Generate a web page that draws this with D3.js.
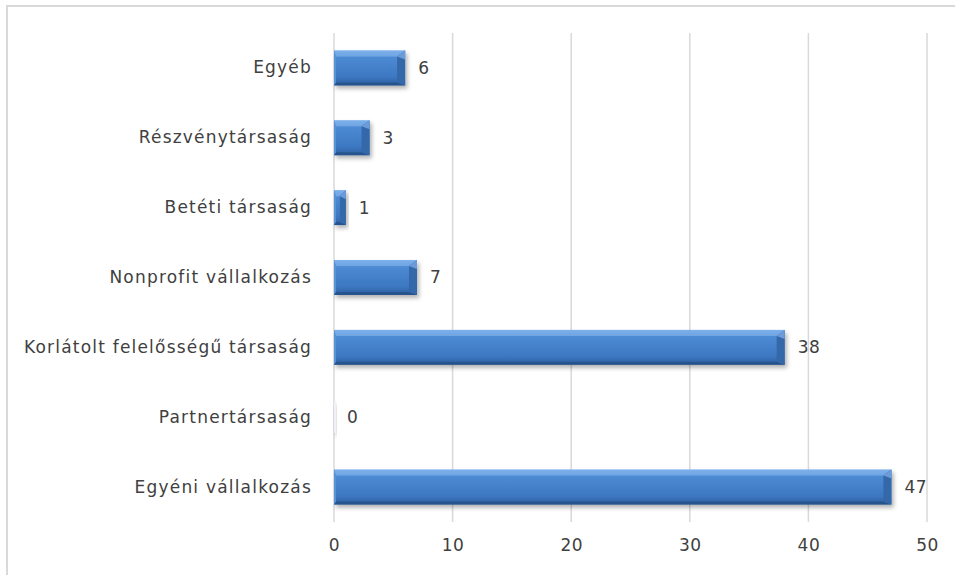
<!DOCTYPE html>
<html>
<head>
<meta charset="utf-8">
<script src="https://cdn.jsdelivr.net/npm/d3@7/dist/d3.min.js"></script>
<style>
  html, body { margin: 0; padding: 0; background: #fff; }
  svg { display: block; }
  text { font-family: "DejaVu Sans", sans-serif; fill: #404040; }
</style>
</head>
<body>
<svg id="chart" width="955" height="575"></svg>
<script>
// Company forms, listed top to bottom
const categories = [
  "Egyéb",
  "Részvénytársaság",
  "Betéti társaság",
  "Nonprofit vállalkozás",
  "Korlátolt felelősségű társaság",
  "Partnertársaság",
  "Egyéni vállalkozás"
];
const values = [6, 3, 1, 7, 38, 0, 47];
const xTicks = [0, 10, 20, 30, 40, 50];

const svg = d3.select("#chart");
const W = 955, H = 575;
const plot = { left: 334, right: 927, top: 33, bottom: 522 };
const FONT = '"DejaVu Sans", sans-serif';

// Outer frame (top and left edges)
svg.append("path")
  .attr("d", `M7,${H} L7,6 L${W},6`)
  .attr("fill", "none")
  .attr("stroke", "#d9d9d9")
  .attr("stroke-width", 2);

const x = d3.scaleLinear().domain([0, 50]).range([plot.left, plot.right]);
const y = d3.scaleBand().domain(categories).range([plot.top, plot.bottom]).paddingInner(0.5).paddingOuter(0.25);

const defs = svg.append("defs");
const grad = defs.append("linearGradient").attr("id", "barGrad")
  .attr("x1", 0).attr("y1", 0).attr("x2", 0).attr("y2", 1);
grad.append("stop").attr("offset", "0%").attr("stop-color", "#6aa3e6");
grad.append("stop").attr("offset", "20%").attr("stop-color", "#4d8ad4");
grad.append("stop").attr("offset", "75%").attr("stop-color", "#3d78c2");
grad.append("stop").attr("offset", "100%").attr("stop-color", "#2d5f9f");

const shadow = defs.append("filter").attr("id", "shadow")
  .attr("x", "-10%").attr("y", "-30%").attr("width", "130%").attr("height", "180%");
shadow.append("feDropShadow").attr("dx", 2).attr("dy", 3)
  .attr("stdDeviation", 2).attr("flood-color", "#000").attr("flood-opacity", 0.3);

// Vertical gridlines
svg.append("g").selectAll("line").data(xTicks.slice(1)).join("line")
  .attr("x1", d => x(d)).attr("x2", d => x(d))
  .attr("y1", plot.top).attr("y2", plot.bottom)
  .attr("stroke", "#d9d9d9").attr("stroke-width", 1.5);

// Category axis line
svg.append("line")
  .attr("x1", x(0)).attr("x2", x(0))
  .attr("y1", plot.top).attr("y2", plot.bottom)
  .attr("stroke", "#d9d9d9").attr("stroke-width", 1.5);

// X axis tick labels
const xAxis = d3.axisBottom(x).tickValues(xTicks).tickSize(0).tickPadding(0);
const gx = svg.append("g").attr("transform", `translate(0,${plot.bottom + 17})`).call(xAxis);
gx.select(".domain").remove();
gx.selectAll("text").attr("font-size", 17).attr("fill", "#404040")
  .attr("letter-spacing", 0.5)
  .style("font-family", FONT);

// Category labels
const yAxis = d3.axisLeft(y).tickSize(0).tickPadding(22);
const gy = svg.append("g").attr("transform", `translate(${x(0)},0)`).call(yAxis);
gy.select(".domain").remove();
gy.selectAll("text").attr("font-size", 17).attr("fill", "#404040")
  .attr("letter-spacing", 1.2)
  .style("font-family", FONT);

// Beveled bars
const rows = categories.map((c, i) => ({ c, v: values[i] }));
const bars = svg.append("g").selectAll("g").data(rows).join("g")
  .attr("filter", "url(#shadow)");

bars.each(function(d) {
  const g = d3.select(this);
  const x0 = x(0), x1 = x(d.v);
  const y0 = y(d.c), y1 = y0 + y.bandwidth();
  const w = x1 - x0;
  if (d.v === 0) {
    g.append("rect").attr("x", x0).attr("y", y0 + 2).attr("width", 2).attr("height", y1 - y0 - 4)
      .attr("fill", "#eef2f7");
    return;
  }
  const bx = Math.min(8, w / 2), by = 6;
  g.append("rect").attr("x", x0).attr("y", y0).attr("width", w).attr("height", y1 - y0)
    .attr("fill", "url(#barGrad)");
  // top facet
  g.append("path").attr("d", `M${x0},${y0} L${x1},${y0} L${x1 - bx},${y0 + by} L${x0 + 2},${y0 + by} Z`)
    .attr("fill", "#8bb9ef").attr("opacity", 0.55);
  // bottom facet
  g.append("path").attr("d", `M${x0},${y1} L${x1},${y1} L${x1 - bx},${y1 - 3} L${x0 + 2},${y1 - 3} Z`)
    .attr("fill", "#23497d").attr("opacity", 0.6);
  // right facet
  g.append("path").attr("d", `M${x1},${y0} L${x1},${y1} L${x1 - bx},${y1 - 3} L${x1 - bx},${y0 + by} Z`)
    .attr("fill", "#3467a8");
  // right facet upper highlight
  g.append("path").attr("d", `M${x1},${y0} L${x1 - bx},${y0 + by} L${x1},${y0 + by + 3} Z`)
    .attr("fill", "#7aa9e3").attr("opacity", 0.8);
  // left facet
  g.append("path").attr("d", `M${x0},${y0} L${x0 + 2},${y0 + by} L${x0 + 2},${y1 - 3} L${x0},${y1} Z`)
    .attr("fill", "#5a92d6");
});

// Value labels
svg.append("g").selectAll("text").data(rows).join("text")
  .attr("x", d => x(d.v) + 13)
  .attr("y", d => y(d.c) + y.bandwidth() / 2)
  .attr("dy", "0.35em")
  .attr("font-size", 17)
  .attr("letter-spacing", 0.5)
  .text(d => d.v);
</script>
</body>
</html>
